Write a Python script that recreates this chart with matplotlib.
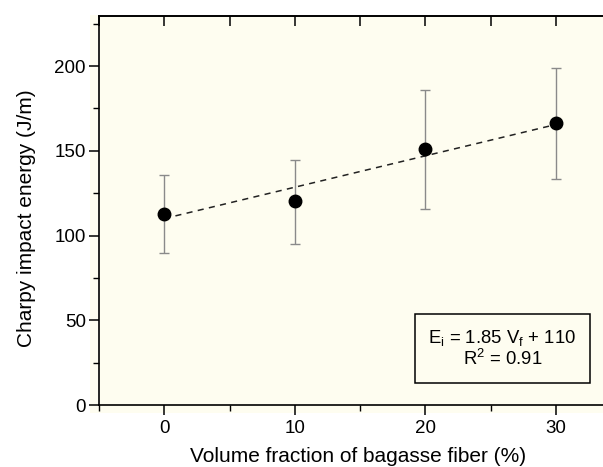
import numpy as np
import matplotlib.pyplot as plt
from matplotlib.ticker import MultipleLocator
from matplotlib.patches import Rectangle

plt.rcParams['font.family'] = ['Liberation Sans', 'DejaVu Sans']

# data
vf = [0, 10, 20, 30]
energy = [112.9, 120.3, 151.0, 166.2]
err_hi = [135.7, 144.7, 186.0, 198.6]
err_lo = [89.7, 95.0, 115.6, 133.3]
slope = 1.85
intercept = 110

bg = '#fefdf0'

fig = plt.figure(figsize=(6.03, 4.67), dpi=100)
# yellow panel behind the axes, slightly bigger than it
fig.patches.append(Rectangle((90/603, (467-413)/467), 1, (413-15)/467,
                             transform=fig.transFigure, facecolor=bg,
                             edgecolor='none', zorder=-5))
ax = fig.add_axes([99/603, (467-405)/467, 1 - 99/603, (405-16)/467])
ax.set_facecolor(bg)

yerr = [np.array(energy) - np.array(err_lo), np.array(err_hi) - np.array(energy)]
ax.errorbar(vf, energy, yerr=yerr, fmt='none', ecolor='#8a8a8a',
            elinewidth=1.0, capsize=3.5, capthick=1.0, zorder=2)
xf = np.array([vf[0], vf[-1]])
ax.plot(xf, slope*xf + intercept, color='#222222', lw=1.1,
        dashes=(4, 3.5), zorder=3)
ax.plot(vf, energy, 'o', color='black', ms=9, zorder=4)

ax.set_xlim(-5, 33.6)
ax.set_ylim(0, 229.5)
ax.xaxis.set_major_locator(MultipleLocator(10))
ax.xaxis.set_minor_locator(MultipleLocator(5))
ax.yaxis.set_major_locator(MultipleLocator(50))
ax.yaxis.set_minor_locator(MultipleLocator(25))

for s in ['left', 'bottom', 'top']:
    ax.spines[s].set_linewidth(1.2)
ax.spines['right'].set_visible(False)

ax.tick_params(axis='both', which='major', labelsize=13.5, width=1.1,
               length=7, direction='out', colors='black', pad=2.5)
ax.tick_params(axis='both', which='minor', width=1.0, length=4,
               direction='out')
ax.tick_params(axis='x', which='major', length=7, pad=4)

# top axis: inward ticks, no labels
top = ax.secondary_xaxis('top')
top.xaxis.set_major_locator(MultipleLocator(5))
top.tick_params(direction='in', length=7, width=1.1, labeltop=False)
top.spines['top'].set_linewidth(1.2)

ax.set_xlabel('Volume fraction of bagasse fiber (%)', fontsize=15)
ax.set_ylabel('Charpy impact energy (J/m)', fontsize=15)
ax.xaxis.set_label_coords(358.5/603, 1 - 447/467, transform=fig.transFigure)
ax.yaxis.set_label_coords(36/603, 1 - 218/467, transform=fig.transFigure)

# equation box
fig.patches.append(Rectangle((415/603, 1 - 383/467), 175/603, 69/467,
                             transform=fig.transFigure, facecolor=bg,
                             edgecolor='black', lw=1.1, zorder=5))
fig.text(502.5/603, 1 - 348.5/467,
         '$\\mathregular{E_i}$ = 1.85 $\\mathregular{V_f}$ + 110\n'
         '$\\mathregular{R^2}$ = 0.91',
         ha='center', va='center', fontsize=13.3, linespacing=1.0,
         zorder=6)

fig.savefig('out.png', dpi=100)
